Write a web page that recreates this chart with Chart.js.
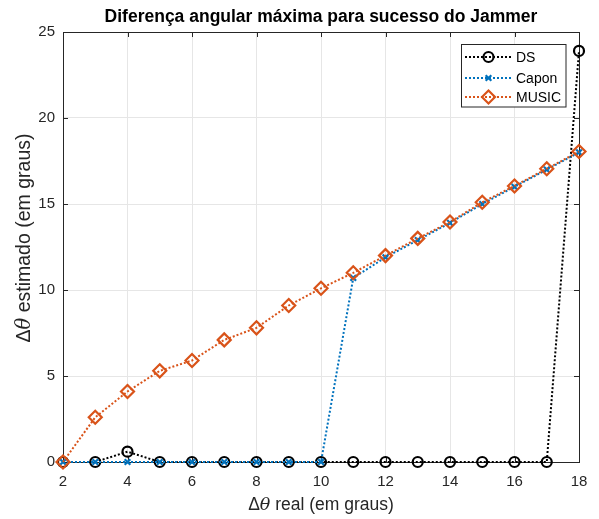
<!DOCTYPE html>
<html>
<head>
<meta charset="utf-8">
<script src="https://cdn.jsdelivr.net/npm/chart.js@4/dist/chart.umd.min.js"></script>
<style>
  html, body { margin: 0; padding: 0; background: #ffffff; }
  #wrap { width: 599px; height: 519px; position: relative; }
</style>
</head>
<body>
<div id="wrap"><canvas id="c" width="599" height="519"></canvas></div>
<script>
// Δθ real (degrees)
const realAngles = [2, 3, 4, 5, 6, 7, 8, 9, 10, 11, 12, 13, 14, 15, 16, 17, 18];
// Estimated Δθ for each method
const dsValues    = [0, 0, 0.6, 0, 0, 0, 0, 0, 0, 0, 0, 0, 0, 0, 0, 0, 23.9];
const caponValues = [0, 0, 0, 0, 0, 0, 0, 0, 0, 10.7, 11.9, 12.9, 13.9, 15.0, 16.0, 17.0, 18.0];
const musicValues = [0, 2.6, 4.1, 5.3, 5.9, 7.1, 7.8, 9.1, 10.1, 11.0, 12.0, 13.0, 13.95, 15.1, 16.05, 17.05, 18.05];
const seriesNames = ['DS', 'Capon', 'MUSIC'];
const xTicks = [2, 4, 6, 8, 10, 12, 14, 16, 18];
const yTicks = [0, 5, 10, 15, 20, 25];

const FONT = '"Liberation Sans", Arial, Helvetica, sans-serif';
const AXIS_COLOR = '#262626';
const GRID_COLOR = '#e6e6e6';
const COLORS = ['#000000', '#0072BD', '#D95319'];
const STYLES = ['circle', 'crossRot', 'rectRot'];
const RADII = [5, 4, 6.5];

function toPoints(vals) {
  return realAngles.map((x, i) => ({ x: x, y: vals[i] }));
}

const seriesValues = [dsValues, caponValues, musicValues];
const datasets = seriesNames.map((name, i) => ({
  label: name,
  data: toPoints(seriesValues[i]),
  borderColor: COLORS[i],
  backgroundColor: 'rgba(0,0,0,0)',
  borderWidth: 2,
  borderDash: [2, 2],
  pointStyle: STYLES[i],
  pointRadius: RADII[i],
  pointBorderWidth: 2.2,
  pointBorderColor: COLORS[i],
  pointBackgroundColor: 'rgba(0,0,0,0)',
  tension: 0,
  clip: false,
  order: 3 - i   // later series are painted over earlier ones
}));

// Italic theta inside a mixed-style label
function drawDeltaTheta(ctx, rest, size) {
  const parts = [
    { t: '\u0394', f: size + 'px ' + FONT },
    { t: '\u03B8', f: 'italic ' + size + 'px "DejaVu Serif", "Liberation Serif", serif' },
    { t: rest, f: size + 'px ' + FONT }
  ];
  let total = 0;
  parts.forEach(p => { ctx.font = p.f; p.w = ctx.measureText(p.t).width; total += p.w; });
  let x = -total / 2;
  parts.forEach(p => { ctx.font = p.f; ctx.fillText(p.t, x, 0); x += p.w; });
}

const framePlugin = {
  id: 'frame',
  beforeDatasetsDraw(chart) {
    const { ctx, chartArea: a, scales } = chart;
    ctx.save();
    ctx.strokeStyle = AXIS_COLOR;
    ctx.lineWidth = 1;
    ctx.strokeRect(Math.round(a.left) + 0.5, Math.round(a.top) + 0.5,
                   Math.round(a.right - a.left), Math.round(a.bottom - a.top));
    const tl = 5;
    xTicks.forEach(v => {
      const px = Math.round(scales.x.getPixelForValue(v)) + 0.5;
      ctx.beginPath();
      ctx.moveTo(px, a.bottom); ctx.lineTo(px, a.bottom - tl);
      ctx.moveTo(px, a.top); ctx.lineTo(px, a.top + tl);
      ctx.stroke();
    });
    yTicks.forEach(v => {
      const py = Math.round(scales.y.getPixelForValue(v)) + 0.5;
      ctx.beginPath();
      ctx.moveTo(a.left, py); ctx.lineTo(a.left + tl, py);
      ctx.moveTo(a.right, py); ctx.lineTo(a.right - tl, py);
      ctx.stroke();
    });
    ctx.restore();
  },
  afterDraw(chart) {
    const { ctx, chartArea: a } = chart;
    ctx.save();
    // Title
    ctx.fillStyle = '#000000';
    ctx.font = 'bold 17.5px ' + FONT;
    ctx.textAlign = 'center';
    ctx.textBaseline = 'middle';
    ctx.fillText('Diferença angular máxima para sucesso do Jammer', (a.left + a.right) / 2, 17);

    // Axis titles
    ctx.fillStyle = AXIS_COLOR;
    ctx.textAlign = 'left';
    ctx.textBaseline = 'middle';
    ctx.save();
    ctx.translate((a.left + a.right) / 2, 505);
    drawDeltaTheta(ctx, ' real (em graus)', 17.5);
    ctx.restore();
    ctx.save();
    ctx.translate(25, 238);
    ctx.rotate(-Math.PI / 2);
    drawDeltaTheta(ctx, ' estimado (em graus)', 19.5);
    ctx.restore();

    // Legend box
    const bx = 461.5, by = 44.5, bw = 104.5, bh = 62.5;
    ctx.fillStyle = '#ffffff';
    ctx.fillRect(bx, by, bw, bh);
    ctx.strokeStyle = AXIS_COLOR;
    ctx.lineWidth = 1;
    ctx.strokeRect(bx, by, bw, bh);
    const rows = [57, 78, 97];
    chart.data.datasets.forEach((ds, i) => {
      const y = rows[i];
      ctx.save();
      ctx.strokeStyle = ds.borderColor;
      ctx.lineWidth = 2;
      ctx.setLineDash([2, 2]);
      ctx.beginPath();
      ctx.moveTo(465, y); ctx.lineTo(512, y);
      ctx.stroke();
      ctx.restore();
      ctx.save();
      ctx.lineWidth = ds.pointBorderWidth;
      ctx.strokeStyle = ds.pointBorderColor;
      ctx.fillStyle = ds.pointBackgroundColor;
      Chart.helpers.drawPoint(ctx, { pointStyle: ds.pointStyle, radius: ds.pointRadius, borderWidth: ds.pointBorderWidth, rotation: 0 }, 488.5, y);
      ctx.restore();
      ctx.fillStyle = '#000000';
      ctx.font = '14px ' + FONT;
      ctx.textAlign = 'left';
      ctx.textBaseline = 'middle';
      ctx.fillText(ds.label, 516, y + 1);
    });
    ctx.restore();
  }
};

new Chart(document.getElementById('c'), {
  type: 'line',
  data: { datasets: datasets },
  options: {
    responsive: false,
    animation: false,
    devicePixelRatio: 1,
    layout: { padding: { top: 32, right: 20, left: 0, bottom: 0 } },
    plugins: { legend: { display: false }, title: { display: false }, tooltip: { enabled: false } },
    scales: {
      x: {
        type: 'linear',
        min: 2, max: 18,
        afterBuildTicks(scale) { scale.ticks = xTicks.map(v => ({ value: v })); },
        afterFit(scale) { scale.height = 57; },
        grid: { color: GRID_COLOR, drawTicks: false },
        border: { display: false },
        ticks: { color: AXIS_COLOR, font: { family: FONT, size: 15 }, padding: 11, maxRotation: 0 }
      },
      y: {
        type: 'linear',
        min: 0, max: 25,
        afterBuildTicks(scale) { scale.ticks = yTicks.map(v => ({ value: v })); },
        afterFit(scale) { scale.width = 63; },
        grid: { color: GRID_COLOR, drawTicks: false },
        border: { display: false },
        ticks: { color: AXIS_COLOR, font: { family: FONT, size: 15 }, padding: 8 }
      }
    }
  },
  plugins: [framePlugin]
});
</script>
</body>
</html>
